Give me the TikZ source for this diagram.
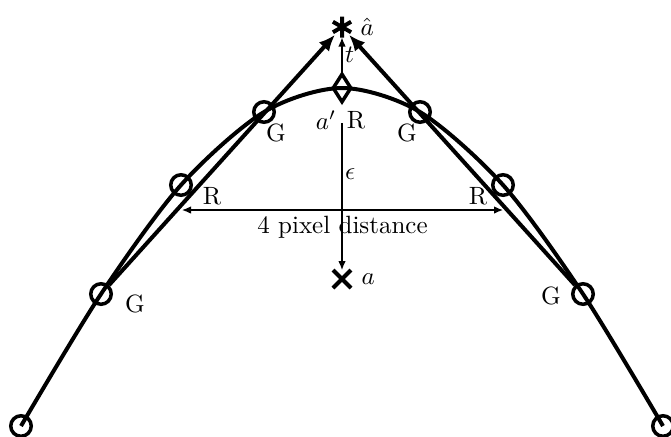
\documentclass[tikz,border=0pt]{standalone}
\usetikzlibrary{positioning,arrows.meta,shapes.geometric,shapes.misc}

\begin{document}
\begin{tikzpicture}[x=0.4pt, y=-0.4pt,
    curve/.style={line width=1.6pt},
    samp/.style={circle, draw, line width=1.4pt, inner sep=0pt, minimum size=8.2pt},
    arr/.style={-{Latex[length=3.6pt,width=3pt]}, line width=0.5pt},
    bigarr/.style={curve, -{Latex[length=6.5pt,width=5.5pt]}},
    lbl/.style={inner sep=1pt}
  ]
  \useasboundingbox (0,0) rectangle (671,436);

  % --- samples on the curve ---
  \node[samp] (cl)  at (21,426)  {};
  \node[samp] (gl1) at (101,294) {};
  \node[samp] (rl)  at (181,185) {};
  \node[samp] (gl2) at (264,112) {};
  \node[samp] (gr2) at (420,112) {};
  \node[samp] (rr)  at (503,185) {};
  \node[samp] (gr1) at (583,294) {};
  \node[samp] (cr)  at (663,426) {};

  % estimate, target and refined point
  \node[diamond, draw, line width=1.4pt, inner sep=0pt, minimum width=7.6pt, minimum height=11.6pt] (ap) at (342,88) {};
  \node[circle, inner sep=0pt, minimum size=8pt] (hat) at (342,27) {};
  \node[cross out, draw, line width=1.6pt, inner sep=0pt, minimum size=5.6pt] (a) at (342,279) {};

  \draw[curve] (hat.90) -- (hat.270) (hat.30) -- (hat.210) (hat.150) -- (hat.330);

  % curve through the samples
  \draw[curve] plot[smooth] coordinates {(cl.center) (gl1.center) (rl.center) (gl2.center) (ap.center) (gr2.center) (rr.center) (gr1.center) (cr.center)};

  % tangents to the peak
  \draw[bigarr] (gl1) -- (hat);
  \draw[bigarr] (gr1) -- (hat);

  % offsets
  \draw[arr] (ap) -- node[right, lbl] {$t$} (hat);
  \coordinate (eps) at (342,123);
  \draw[arr] (eps) -- node[right, lbl, pos=0.35] {$\epsilon$} (a);

  \coordinate (dl) at (182,210);
  \coordinate (dr) at (503,210);
  \draw[arr, {Latex[length=3.6pt,width=3pt]}-{Latex[length=3.6pt,width=3pt]}] (dl) -- node[below=-1pt] {4 pixel distance} (dr);

  % labels
  \node[lbl, right=2pt of hat] {$\hat{a}$};
  \node[lbl, right=3pt of a] {$a$};
  \node[lbl] (aplbl) at (326,120) {$a'$};
  \node[lbl] at (356,120) {R};
  \node[lbl] at (135,304) {G};
  \node[lbl] at (212,196) {R};
  \node[lbl] at (276,133) {G};
  \node[lbl] at (407,133) {G};
  \node[lbl] at (478,196) {R};
  \node[lbl] at (551,296) {G};
\end{tikzpicture}
\end{document}
